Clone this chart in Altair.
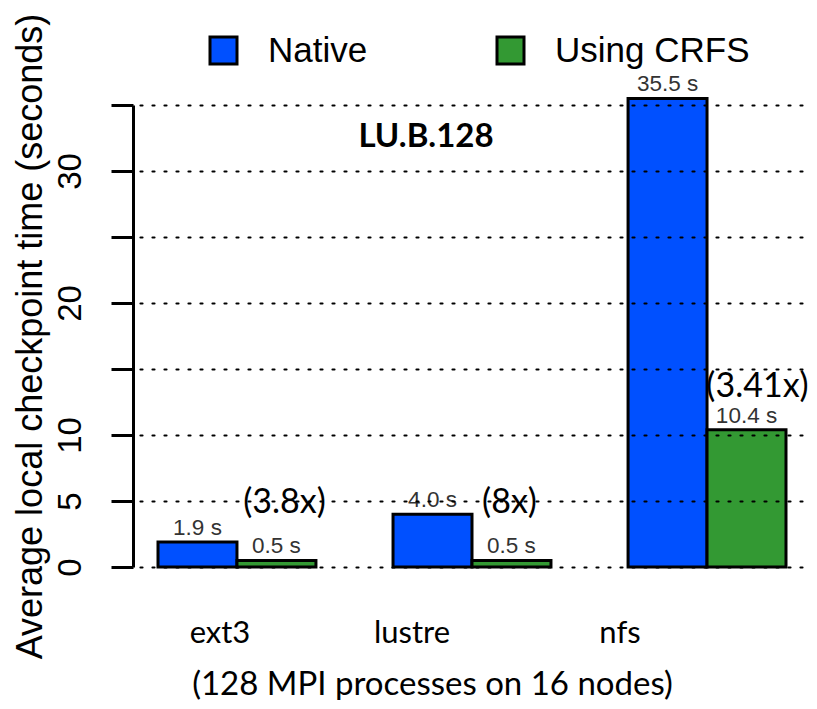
import altair as alt
import pandas as pd

filesystems = ["ext3", "lustre", "nfs"]
series = ["Native", "Using CRFS"]
native = [1.9, 4.0, 35.5]
crfs = [0.5, 0.5, 10.4]
native_labels = ["1.9 s", "4.0 s", "35.5 s"]
crfs_labels = ["0.5 s", "0.5 s", "10.4 s"]
speedups = ["(3.8x)", "(8x)", "(3.41x)"]
speedup_y = [4.85, 4.85, 13.6]
y_ticks = [0, 5, 10, 15, 20, 25, 30, 35]
benchmark = "LU.B.128"

rows = []
for i, fs in enumerate(filesystems):
    rows.append({"fs": fs, "series": series[0], "value": native[i], "label": native_labels[i]})
    rows.append({"fs": fs, "series": series[1], "value": crfs[i], "label": crfs_labels[i]})
df = pd.DataFrame(rows)

ann = pd.DataFrame({"fs": filesystems, "series": [series[1]] * 3,
                    "y": speedup_y, "text": speedups})
title_df = pd.DataFrame({"fs": ["lustre"], "y": [32.6], "text": [benchmark]})

xscale = alt.Scale(domain=filesystems, paddingInner=0.328, paddingOuter=0.0766)
yscale = alt.Scale(domain=[0, 35], nice=False, zero=True)
offscale = alt.Scale(domain=series, paddingInner=0, paddingOuter=0)

x_axis = alt.Axis(
    title="(128 MPI processes on 16 nodes)",
    domain=False, ticks=False, tickSize=0, grid=False,
    labelFont="Lato", labelFontSize=31, labelColor="black",
    labelBaseline="top", labelPadding=51, labelAngle=0,
    labelOffset={"expr": "datum.value == 'ext3' ? -17 : datum.value == 'lustre' ? -60 : -87"},
    titleFont="Lato", titleFontSize=33, titleFontWeight="normal", titleColor="black",
    titleX=292, titleY=117, titleBaseline="middle", titleAlign="center",
)

y_axis = alt.Axis(
    title="Average local checkpoint time (seconds)",
    values=y_ticks, offset=7,
    domain=True, domainColor="black", domainWidth=3,
    ticks=True, tickColor="black", tickWidth=3, tickSize=22,
    grid=True, gridColor="black", gridDash=[2, 10], gridWidth=2.2, gridCap="round",
    labelExpr="(datum.value == 15 || datum.value == 25 || datum.value == 35) ? '' : datum.label",
    labelFont="Liberation Sans", labelFontSize=33, labelColor="black",
    labelAngle=270, labelAlign="center", labelBaseline="middle", labelPadding=41,
    titleFont="Liberation Sans", titleFontSize=36, titleFontWeight="normal", titleColor="black",
    titleAngle=270, titleX=-103, titleY=231, titleBaseline="middle", titleAlign="center",
    zindex=1,
)

base = alt.Chart(df)

bars = base.mark_bar(stroke="black", strokeWidth=3).encode(
    x=alt.X("fs:N", scale=xscale, axis=x_axis, sort=filesystems),
    xOffset=alt.XOffset("series:N", scale=offscale, sort=series),
    y=alt.Y("value:Q", scale=yscale, axis=y_axis),
    color=alt.Color(
        "series:N",
        scale=alt.Scale(domain=series, range=["#0050FF", "#339933"]),
        legend=alt.Legend(
            title=None, orient="none", direction="horizontal",
            legendX=66, legendY=-72,
            symbolType="square", symbolSize=729, symbolStrokeColor="black",
            symbolStrokeWidth=3, symbolOpacity=1,
            labelFont="Liberation Sans", labelFontSize=35, labelColor="black",
            labelOffset=27, columnPadding=123, padding=0, labelLimit=0,
        ),
    ),
)

values = base.mark_text(
    baseline="alphabetic", dy=-7, font="Liberation Sans", fontSize=22.5, color="#333333"
).encode(
    x=alt.X("fs:N", scale=xscale, sort=filesystems),
    xOffset=alt.XOffset("series:N", scale=offscale, sort=series),
    y=alt.Y("value:Q", scale=yscale),
    text="label:N",
)

speed = alt.Chart(ann).mark_text(
    baseline="middle",
    dx={"expr": "datum.fs == 'ext3' ? 8 : datum.fs == 'lustre' ? -2 : 11"},
    font="Lato", fontSize=34, color="black"
).encode(
    x=alt.X("fs:N", scale=xscale, sort=filesystems),
    xOffset=alt.XOffset("series:N", scale=offscale, sort=series),
    y=alt.Y("y:Q", scale=yscale),
    text="text:N",
)

bench = alt.Chart(title_df).mark_text(
    baseline="middle", dx=-46, font="Lato", fontSize=33, fontWeight="bold", color="black"
).encode(
    x=alt.X("fs:N", scale=xscale, sort=filesystems),
    y=alt.Y("y:Q", scale=yscale),
    text="text:N",
)

chart = alt.layer(bars, values, speed, bench).properties(
    width=664, height=462,
    autosize=alt.AutoSizeParams(type="none"),
    padding={"left": 132, "top": 97, "right": 5, "bottom": 133},
).configure_view(stroke=None).configure_axis(labelLimit=0)

chart.save("out.html", embed_options={"renderer": "svg", "actions": False})
